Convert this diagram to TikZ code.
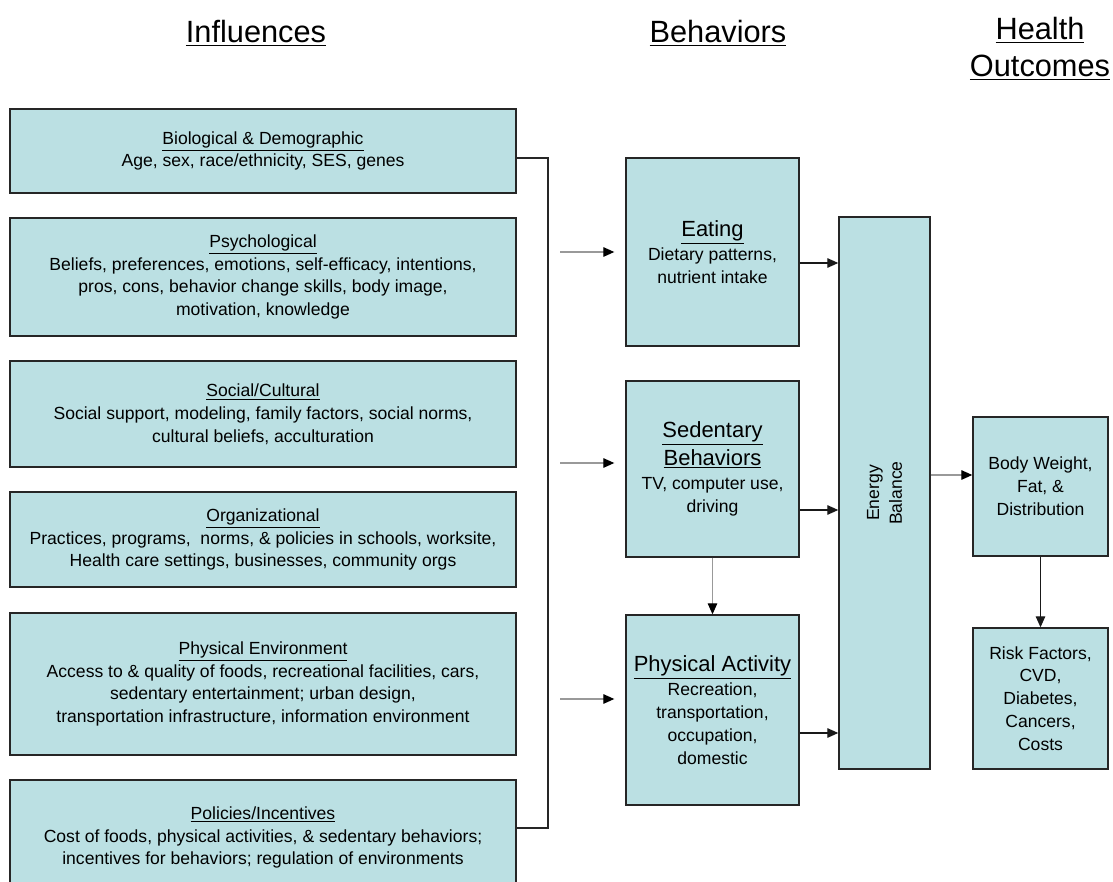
\documentclass[tikz,border=0pt]{standalone}
\usepackage{fontspec}
\setmainfont{Liberation Sans}
\usetikzlibrary{arrows.meta}
\definecolor{boxcyan}{RGB}{187,224,227}

\newcommand{\boxttl}[1]{{\fontsize{12.5}{15}\selectfont\underline{#1}}}

\begin{document}
\begin{tikzpicture}[x=0.02cm,y=-0.02cm,
    every node/.style={font=\fontsize{10}{13}\selectfont,align=center},
    card/.style={draw=black!85,line width=0.8pt,fill=boxcyan,inner sep=0pt},
    infl/.style={card,minimum width=10.12cm},
    beh/.style={card,minimum width=3.46cm},
    outc/.style={card,minimum width=2.7cm},
    head/.style={font=\fontsize{17.5}{21}\selectfont},
    link/.style={line width=0.75pt,draw=black!90,-{Triangle[length=0.22cm,width=0.19cm]}},
    greylink/.style={line width=0.75pt,draw=black!40,-{Triangle[length=0.22cm,width=0.19cm,color=black]}}]
  \clip (0,0) rectangle (1113,882);
  % headings
  \node[head] (hinf) at (256,33) {\underline{Influences}};
  \node[head] (hbeh) at (718,33) {\underline{Behaviors}};
  \node[head] (hout) at (1040,49) {\underline{Health}\\\underline{Outcomes}};
  % influences
  \node[infl,minimum height=1.68cm] (bio) at (263,151)
    {\underline{Biological \& Demographic}\\Age, sex, race/ethnicity, SES, genes};
  \node[infl,minimum height=2.36cm] (psy) at (263,277)
    {\underline{Psychological}\\Beliefs, preferences, emotions, self-efficacy, intentions,\\
     pros, cons, behavior change skills, body image,\\motivation, knowledge};
  \node[infl,minimum height=2.12cm] (soc) at (263,414)
    {\underline{Social/Cultural}\\Social support, modeling, family factors, social norms,\\
     cultural beliefs, acculturation};
  \node[infl,minimum height=1.9cm] (org) at (263,539.5)
    {\underline{Organizational}\\Practices, programs,\ \ norms, \& policies in schools, worksite,\\
     Health care settings, businesses, community orgs};
  \node[infl,minimum height=2.84cm] (env) at (263,684)
    {\underline{Physical Environment}\\Access to \& quality of foods, recreational facilities, cars,\\
     sedentary entertainment; urban design,\\transportation infrastructure, information environment};
  \node[infl,minimum height=2.3cm] (pol) at (263,837.5)
    {\underline{Policies/Incentives}\\Cost of foods, physical activities, \& sedentary behaviors;\\
     incentives for behaviors; regulation of environments};
  % behaviors
  \node[beh,minimum height=3.76cm] (eat) at (712.5,252)
    {\boxttl{Eating}\\[1pt]Dietary patterns,\\nutrient intake};
  \node[beh,minimum height=3.52cm] (sed) at (712.5,469)
    {\boxttl{Sedentary}\\[1pt]\boxttl{Behaviors}\\[1pt]TV, computer use,\\driving};
  \node[beh,minimum height=3.8cm] (pa) at (712.5,710)
    {\boxttl{Physical Activity}\\[1pt]Recreation,\\transportation,\\occupation,\\domestic};
  \node[card,minimum width=1.82cm,minimum height=11.04cm] (eb) at (884.5,493) {};
  \node[rotate=90] (ebtxt) at (eb) {Energy\\Balance};
  % outcomes
  \node[outc,minimum height=2.78cm] (bw) at (1040.5,486.5)
    {Body Weight,\\Fat, \&\\Distribution};
  \node[outc,minimum height=2.82cm] (risk) at (1040.5,698.5)
    {Risk Factors,\\CVD,\\Diabetes,\\Cancers,\\Costs};
  % bracket and inputs
  \coordinate (brk) at (548,828);
  \draw[line width=0.8pt,draw=black!85] (bio.east |- 0,158) -| (brk) -- (pol.east |- brk);
  \coordinate (in1) at (560,252);
  \coordinate (in2) at (560,463);
  \coordinate (in3) at (560,699);
  \foreach \c/\b in {in1/eat,in2/sed,in3/pa}
    \draw[greylink,shorten >=0.22cm] (\c) -- (\c -| \b.west);
  % into energy balance
  \draw[link] (eat.east |- 0,263) -- (eb.west |- 0,263);
  \draw[link] (sed.east |- 0,510) -- (eb.west |- 0,510);
  \draw[link] (pa.east |- 0,733) -- (eb.west |- 0,733);
  \draw[greylink] (sed.south) -- (pa.north);
  \draw[greylink] (eb.east |- 0,475) -- (bw.west |- 0,475);
  \draw[link] (bw.south) -- (risk.north);
\end{tikzpicture}
\end{document}
